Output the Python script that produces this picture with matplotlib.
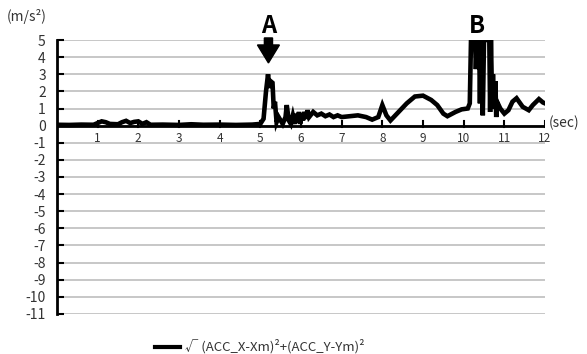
import matplotlib.pyplot as plt
from matplotlib.lines import Line2D
from matplotlib.patches import Polygon

plt.rcParams['font.family'] = ['Noto Sans CJK JP', 'DejaVu Sans']

# acceleration magnitude over time (sec, m/s^2)
t = [0.0, 0.3, 0.6, 0.9, 1.0, 1.1, 1.2, 1.3, 1.5, 1.6, 1.7, 1.8, 1.9, 2.0,
     2.1, 2.2, 2.3, 2.6, 3.0, 3.3, 3.6, 4.0, 4.4, 4.8, 5.0,
     5.08, 5.14, 5.19, 5.22, 5.25, 5.3, 5.33, 5.36, 5.4, 5.45, 5.5, 5.55, 5.62,
     5.65, 5.7, 5.75, 5.8, 5.85, 5.88, 5.92, 5.95, 5.98, 6.02, 6.05, 6.08,
     6.12, 6.16, 6.2,
     6.3, 6.4, 6.5, 6.6, 6.7, 6.8, 6.9, 7.0, 7.2, 7.4, 7.6, 7.75, 7.9, 8.0,
     8.1, 8.2, 8.4, 8.6, 8.8, 9.0, 9.2, 9.35, 9.5, 9.6, 9.8, 9.95, 10.1,
     10.15, 10.18, 10.28, 10.3, 10.33, 10.38, 10.4, 10.42, 10.47, 10.5, 10.63,
     10.65, 10.67, 10.7, 10.72, 10.75, 10.78, 10.8, 10.82, 10.9, 11.0, 11.1,
     11.2, 11.3, 11.45, 11.6, 11.7, 11.85, 11.95, 12.0]
acc = [0.05, 0.04, 0.06, 0.05, 0.15, 0.25, 0.2, 0.1, 0.08, 0.2, 0.28, 0.15,
       0.22, 0.25, 0.1, 0.2, 0.05, 0.06, 0.04, 0.08, 0.05, 0.06, 0.04, 0.06, 0.1,
       0.4, 2.0, 3.0, 2.2, 2.6, 2.5, 1.0, 1.4, 0.2, 0.5, 0.3, 0.1, 0.5,
       1.2, 0.3, 0.1, 0.6, 0.1, 0.7, 0.2, 0.8, 0.1, 0.7, 0.3, 0.8,
       0.4, 0.9, 0.5,
       0.8, 0.6, 0.7, 0.55, 0.65, 0.5, 0.6, 0.5, 0.55, 0.6, 0.5, 0.35, 0.5, 1.2,
       0.6, 0.3, 0.8, 1.3, 1.7, 1.75, 1.5, 1.2, 0.7, 0.55, 0.8, 0.95, 1.0,
       1.3, 5.0, 5.0, 3.3, 5.0, 5.0, 1.3, 5.0, 0.6, 5.0, 5.0,
       0.8, 5.0, 1.3, 3.0, 1.0, 2.6, 0.5, 1.4, 1.0, 0.7, 0.9,
       1.4, 1.6, 1.1, 0.9, 1.2, 1.55, 1.35, 1.3]

yticks = list(range(-11, 6))
xticks = list(range(1, 13))

fig = plt.figure(figsize=(5.87, 3.54), dpi=100)
ax = fig.add_axes([0.097, 0.113, 0.8315, 0.774])

for y in yticks:
    ax.axhline(y, color='#bdbdbd', lw=1.2, zorder=1)
ax.axhline(0, color='black', lw=2, zorder=2)

ax.plot(t, acc, color='black', lw=3.3, solid_joinstyle='miter', zorder=3)

ax.set_xlim(0, 12)
ax.set_ylim(-11, 5)
for s in ['top', 'right', 'bottom']:
    ax.spines[s].set_visible(False)
ax.spines['left'].set_linewidth(2)

ax.set_yticks(yticks)
ax.set_yticklabels([str(v) for v in yticks], fontsize=10, color='#333333')
ax.tick_params(axis='y', direction='in', length=5, width=1.5, pad=8)
ax.set_xticks([])
for x in xticks:
    ax.plot([x, x], [-0.1, 0.25], color='black', lw=1.5, zorder=2)
    ax.text(x, -0.4, str(x), ha='center', va='top', fontsize=8.5, color='#333333')

ax.text(12.1, 0.15, '(sec)', ha='left', va='center', fontsize=10, color='#333333')
fig.text(0.012, 0.952, '(m/s²)', ha='left', va='center', fontsize=10, color='#333333')

# event markers
ax.text(5.2, 5.82, 'A', ha='center', va='center', fontsize=17, fontweight='bold')
ax_x = 5.2
arrow = Polygon([(ax_x - 0.1, 5.12), (ax_x + 0.1, 5.12), (ax_x + 0.1, 4.71),
                 (ax_x + 0.27, 4.71), (ax_x, 3.66), (ax_x - 0.27, 4.71),
                 (ax_x - 0.1, 4.71)], closed=True, color='black', clip_on=False, zorder=4)
ax.add_patch(arrow)
ax.text(10.33, 5.82, 'B', ha='center', va='center', fontsize=17, fontweight='bold')

# legend
fig.add_artist(Line2D([155 / 587, 180 / 587], [1 - 347 / 354] * 2, color='black', lw=3))
fig.text(185 / 587, 1 - 346 / 354, '√ (ACC_X-Xm)²+(ACC_Y-Ym)²', ha='left', va='center',
         fontsize=9.5, color='#333333')

fig.savefig('out.png', dpi=100)
